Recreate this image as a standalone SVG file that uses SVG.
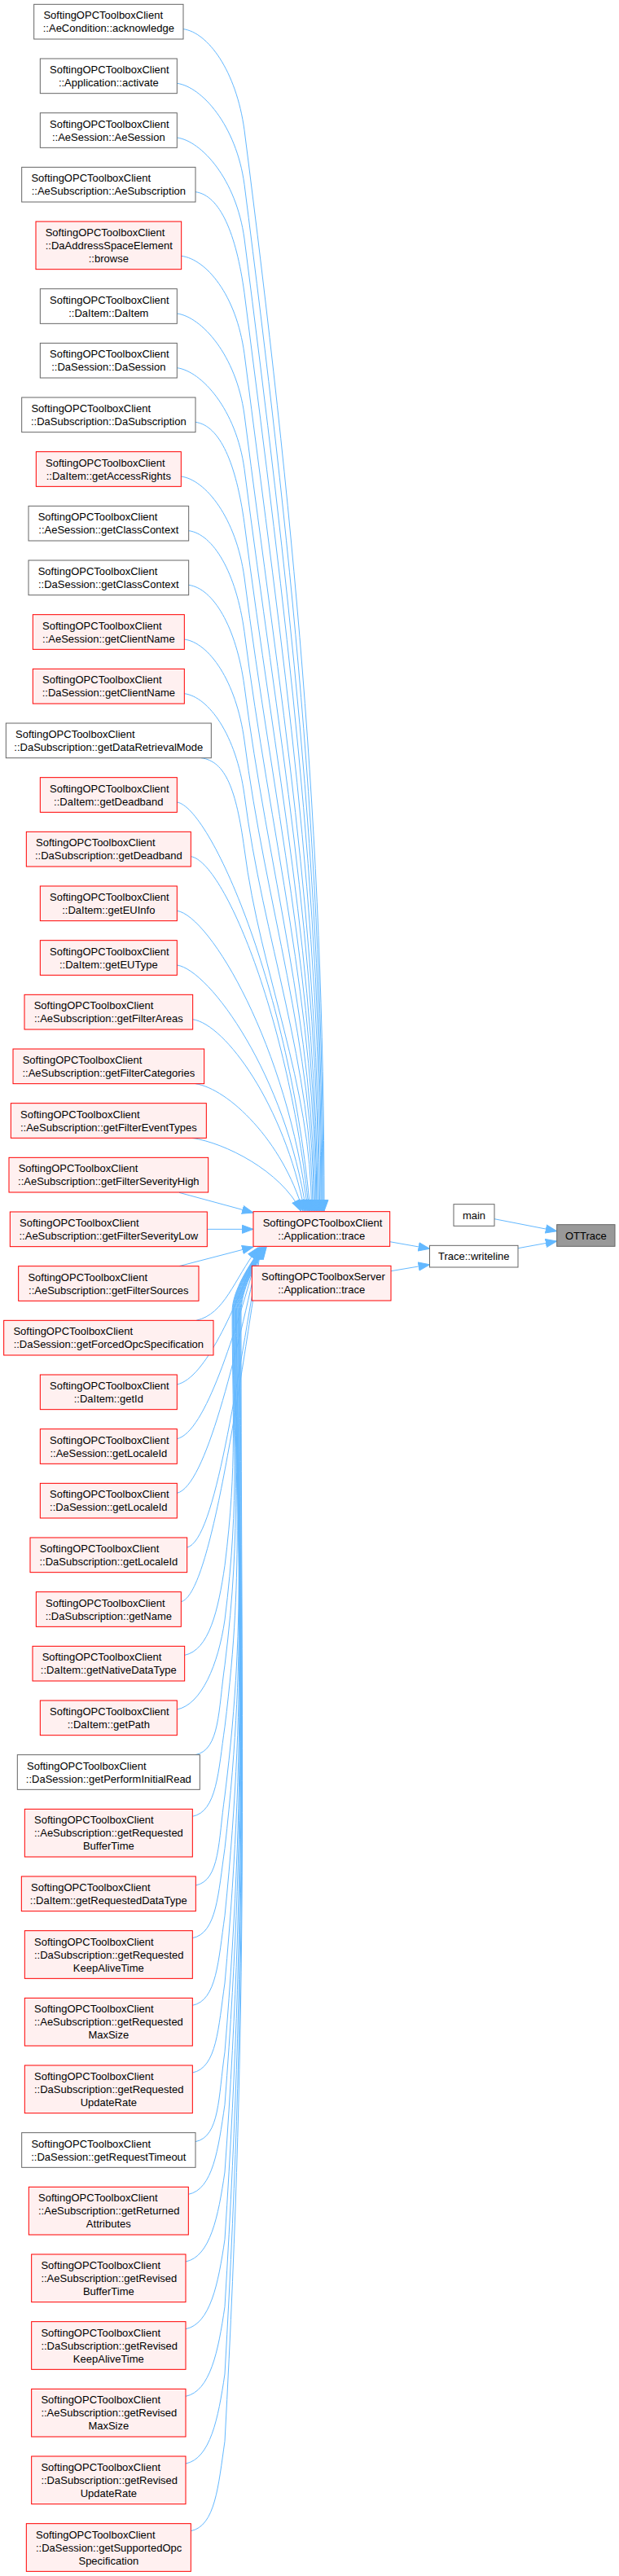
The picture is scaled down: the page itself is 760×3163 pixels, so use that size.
<svg xmlns="http://www.w3.org/2000/svg" width="760" height="3163" viewBox="0 0 760 3163">
<style>
text{font-family:"Liberation Sans",Arial,Helvetica,sans-serif;font-size:13px;fill:#000}
.c{text-anchor:middle}
.g rect{fill:#fff;stroke:#666;stroke-width:1}
.r rect{fill:#fff0f0;stroke:#ff0000;stroke-width:1}
.f rect{fill:#999;stroke:#666;stroke-width:1}
#edges path{fill:none;stroke:#63b8ff;stroke-width:1;marker-end:url(#ah)}
</style>
<defs>
<marker id="ah" markerUnits="userSpaceOnUse" markerWidth="15" markerHeight="12" viewBox="0 0 15 12" refX="14" refY="6" orient="auto">
<path d="M0.5,1 L14,6 L0.5,11 z" fill="#63b8ff" stroke="#63b8ff" stroke-width="1"/>
</marker>
</defs>
<rect x="0" y="0" width="760" height="3163" fill="#fff"/>
<g id="edges">
<path d="M225,35.67 C255,39.67 290,86.67 300,159.67 C359.4,623.9 398,1021.8 398,1487"/>
<path d="M217.33,102.33 C247.33,106.33 290,153.33 300,226.33 C356.4,667.2 397,1045.1 397,1487"/>
<path d="M217.33,169 C247.33,173 290,220 300,293 C353.4,710.6 396,1068.4 396,1487"/>
<path d="M240,235.67 C270,239.67 290,286.67 300,359.67 C350.5,753.9 395,1091.8 395,1487"/>
<path d="M222.83,314.33 C252.83,318.33 290,361.33 300,434.33 C347.1,802.4 394,1117.9 394,1487"/>
<path d="M217.33,385 C247.33,389 290,436 300,509 C343.8,851 392.5,1144 392.5,1487"/>
<path d="M217.33,451.67 C247.33,455.67 290,502.67 300,575.67 C340.8,894.3 391.5,1167.4 391.5,1487"/>
<path d="M240,518.33 C270,522.33 290,569.33 300,642.33 C337.8,937.6 390,1190.7 390,1487"/>
<path d="M222.33,585 C252.33,589 290,636 300,709 C334.8,981 389,1214 389,1487"/>
<path d="M231.67,651.67 C261.67,655.67 290,702.67 300,775.67 C331.8,1024.3 388,1237.4 388,1487"/>
<path d="M231.67,718.33 C261.67,722.33 290,769.33 300,842.33 C328.8,1067.6 386.5,1260.7 386.5,1487"/>
<path d="M226.33,785 C256.33,789 290,836 300,909 C325.9,1111 385.5,1284 385.5,1487"/>
<path d="M226.33,851.67 C256.33,855.67 290,902.67 300,975.67 C322.9,1154.3 384,1307.4 384,1487"/>
<path d="M247,930.67 C277,934.67 290,969.33 300,1042.33 C319.9,1197.6 382.5,1330.7 382.5,1487"/>
<path d="M217.33,985 C257.33,991 356,1210.5 381,1487"/>
<path d="M234.33,1051.67 C274.33,1057.67 354.5,1247.1 379.5,1487"/>
<path d="M217.33,1118.33 C257.33,1124.33 353,1283.8 378,1487"/>
<path d="M217.33,1185 C257.33,1191 351,1320.5 376,1487"/>
<path d="M236.67,1251.67 C276.67,1257.67 349,1357.1 374,1487"/>
<path d="M240,1330.67 C280,1336.67 347,1400.6 372,1487"/>
<path d="M236,1397.33 C276,1403.33 344.5,1437.2 369.5,1487"/>
<path d="M220,1464.33 L311,1489"/>
<path d="M254.33,1509.33 L311,1509.33"/>
<path d="M220,1554.67 L311,1531"/>
<path d="M241,1621.33 C276,1613.33 286.7,1572.2 316.7,1532"/>
<path d="M217.33,1700 C252.33,1692 287.7,1607.6 317.7,1532"/>
<path d="M217.33,1766.67 C252.33,1758.67 288.5,1637.6 318.5,1532"/>
<path d="M217.33,1833.33 C252.33,1825.33 289.2,1667.6 319.2,1532"/>
<path d="M229.67,1900 C264.67,1892 289.8,1697.6 319.8,1532"/>
<path d="M222.33,1966.67 C257.33,1958.67 290.4,1727.6 320.4,1532"/>
<path d="M226.67,2032.33 C256.67,2026.33 268,1977.33 276,1922.33 C291.6,1797.4 285.1,1734.9 285.1,1610 C285.1,1585 306.9,1552 320.9,1532"/>
<path d="M217.33,2099 C247.33,2093 268,2044 276,1989 C295,1837.4 285.8,1761.6 285.8,1610 C285.8,1585 307.4,1552 321.4,1532"/>
<path d="M240,2154.67 C270,2148.67 268,2099.67 276,2044.67 C297.7,1870.8 286.5,1783.9 286.5,1610 C286.5,1585 307.9,1552 321.9,1532"/>
<path d="M236.33,2230.33 C266.33,2224.33 268,2175.33 276,2120.33 C301.5,1916.2 287.2,1814.1 287.2,1610 C287.2,1585 308.4,1552 322.4,1532"/>
<path d="M240.33,2315 C270.33,2309 268,2260 276,2205 C305.75,1967 288,1848 288,1610 C288,1585 308.9,1552 322.9,1532"/>
<path d="M236.33,2379.67 C266.33,2373.67 268,2324.67 276,2269.67 C306,2005.8 288.7,1873.9 288.7,1610 C288.7,1585 309.3,1552 323.3,1532"/>
<path d="M236.33,2462.33 C266.33,2456.33 268,2407.33 276,2352.33 C306,2055.4 289.5,1906.9 289.5,1610 C289.5,1585 309.8,1552 323.8,1532"/>
<path d="M236.33,2545 C266.33,2539 268,2490 276,2435 C306,2105 290.4,1940 290.4,1610 C290.4,1585 310.3,1552 324.3,1532"/>
<path d="M240,2629.67 C270,2623.67 268,2574.67 276,2519.67 C306,2155.8 291.1,1973.9 291.1,1610 C291.1,1585 310.7,1552 324.7,1532"/>
<path d="M231.33,2694.33 C261.33,2688.33 268,2639.33 276,2584.33 C306,2194.6 291.9,1999.7 291.9,1610 C291.9,1585 311.1,1552 325.1,1532"/>
<path d="M228,2777 C258,2771 268,2722 276,2667 C306,2244.2 292.7,2032.8 292.7,1610 C292.7,1585 311.5,1552 325.5,1532"/>
<path d="M228,2859.67 C258,2853.67 268,2804.67 276,2749.67 C306,2293.8 293.5,2065.9 293.5,1610 C293.5,1585 311.9,1552 325.9,1532"/>
<path d="M228,2942.33 C258,2936.33 268,2887.33 276,2832.33 C306,2343.4 294.3,2098.9 294.3,1610 C294.3,1585 312.3,1552 326.3,1532"/>
<path d="M228,3025 C258,3019 268,2970 276,2915 C306,2393 295.2,2132 295.2,1610 C295.2,1585 312.6,1552 326.6,1532"/>
<path d="M234.33,3107.67 C264.33,3101.67 268,3052.67 276,2997.67 C306,2442.6 296,2165.1 296,1610 C296,1585 313,1552 327,1532"/>
<path d="M478.67,1524.7 L527.5,1533.3"/>
<path d="M480,1560.7 L527.5,1552.7"/>
<path d="M607,1496.7 L683.7,1511.7"/>
<path d="M636,1532.7 L683.7,1524"/>
</g>
<g id="n1" class="g"><rect x="41.67" y="5.33" width="183.33" height="42.67"/><text x="53.4" y="23.17">SoftingOPCToolboxClient</text><text class="c" x="133.33" y="39.17">::AeCondition::acknowledge</text></g>
<g id="n2" class="g"><rect x="49.33" y="72" width="168" height="42.67"/><text x="61" y="89.83">SoftingOPCToolboxClient</text><text class="c" x="133.33" y="105.83">::Application::activate</text></g>
<g id="n3" class="g"><rect x="49.33" y="138.67" width="168" height="42.67"/><text x="61" y="156.5">SoftingOPCToolboxClient</text><text class="c" x="133.33" y="172.5">::AeSession::AeSession</text></g>
<g id="n4" class="g"><rect x="26.67" y="205.33" width="213.33" height="42.67"/><text x="38.4" y="223.17">SoftingOPCToolboxClient</text><text class="c" x="133.33" y="239.17">::AeSubscription::AeSubscription</text></g>
<g id="n5" class="r"><rect x="44" y="272" width="178.67" height="58.67"/><text x="55.7" y="289.83">SoftingOPCToolboxClient</text><text x="55.7" y="305.83">::DaAddressSpaceElement</text><text class="c" x="133.33" y="321.83">::browse</text></g>
<g id="n6" class="g"><rect x="49.33" y="354.67" width="168" height="42.67"/><text x="61" y="372.5">SoftingOPCToolboxClient</text><text class="c" x="133.33" y="388.5">::DaItem::DaItem</text></g>
<g id="n7" class="g"><rect x="49.33" y="421.33" width="168" height="42.67"/><text x="61" y="439.17">SoftingOPCToolboxClient</text><text class="c" x="133.33" y="455.17">::DaSession::DaSession</text></g>
<g id="n8" class="g"><rect x="26.67" y="488" width="213.33" height="42.67"/><text x="38.4" y="505.83">SoftingOPCToolboxClient</text><text class="c" x="133.33" y="521.83">::DaSubscription::DaSubscription</text></g>
<g id="n9" class="r"><rect x="44.33" y="554.67" width="178" height="42.67"/><text x="56" y="572.5">SoftingOPCToolboxClient</text><text class="c" x="133.33" y="588.5">::DaItem::getAccessRights</text></g>
<g id="n10" class="g"><rect x="35" y="621.33" width="196.67" height="42.67"/><text x="46.7" y="639.17">SoftingOPCToolboxClient</text><text class="c" x="133.33" y="655.17">::AeSession::getClassContext</text></g>
<g id="n11" class="g"><rect x="35" y="688" width="196.67" height="42.67"/><text x="46.7" y="705.83">SoftingOPCToolboxClient</text><text class="c" x="133.33" y="721.83">::DaSession::getClassContext</text></g>
<g id="n12" class="r"><rect x="40.33" y="754.67" width="186" height="42.67"/><text x="52" y="772.5">SoftingOPCToolboxClient</text><text class="c" x="133.33" y="788.5">::AeSession::getClientName</text></g>
<g id="n13" class="r"><rect x="40.33" y="821.33" width="186" height="42.67"/><text x="52" y="839.17">SoftingOPCToolboxClient</text><text class="c" x="133.33" y="855.17">::DaSession::getClientName</text></g>
<g id="n14" class="g"><rect x="7.33" y="888" width="252" height="42.67"/><text x="19" y="905.83">SoftingOPCToolboxClient</text><text class="c" x="133.33" y="921.83">::DaSubscription::getDataRetrievalMode</text></g>
<g id="n15" class="r"><rect x="49.33" y="954.67" width="168" height="42.67"/><text x="61" y="972.5">SoftingOPCToolboxClient</text><text class="c" x="133.33" y="988.5">::DaItem::getDeadband</text></g>
<g id="n16" class="r"><rect x="32.33" y="1021.33" width="202" height="42.67"/><text x="44" y="1039.17">SoftingOPCToolboxClient</text><text class="c" x="133.33" y="1055.17">::DaSubscription::getDeadband</text></g>
<g id="n17" class="r"><rect x="49.33" y="1088" width="168" height="42.67"/><text x="61" y="1105.83">SoftingOPCToolboxClient</text><text class="c" x="133.33" y="1121.83">::DaItem::getEUInfo</text></g>
<g id="n18" class="r"><rect x="49.33" y="1154.67" width="168" height="42.67"/><text x="61" y="1172.5">SoftingOPCToolboxClient</text><text class="c" x="133.33" y="1188.5">::DaItem::getEUType</text></g>
<g id="n19" class="r"><rect x="30" y="1221.33" width="206.67" height="42.67"/><text x="41.7" y="1239.17">SoftingOPCToolboxClient</text><text class="c" x="133.33" y="1255.17">::AeSubscription::getFilterAreas</text></g>
<g id="n20" class="r"><rect x="16" y="1288" width="234.67" height="42.67"/><text x="27.7" y="1305.83">SoftingOPCToolboxClient</text><text class="c" x="133.33" y="1321.83">::AeSubscription::getFilterCategories</text></g>
<g id="n21" class="r"><rect x="13.33" y="1354.67" width="240" height="42.67"/><text x="25" y="1372.5">SoftingOPCToolboxClient</text><text class="c" x="133.33" y="1388.5">::AeSubscription::getFilterEventTypes</text></g>
<g id="n22" class="r"><rect x="11" y="1421.33" width="244.67" height="42.67"/><text x="22.7" y="1439.17">SoftingOPCToolboxClient</text><text class="c" x="133.33" y="1455.17">::AeSubscription::getFilterSeverityHigh</text></g>
<g id="n23" class="r"><rect x="12.33" y="1488" width="242" height="42.67"/><text x="24" y="1505.83">SoftingOPCToolboxClient</text><text class="c" x="133.33" y="1521.83">::AeSubscription::getFilterSeverityLow</text></g>
<g id="n24" class="r"><rect x="22.67" y="1554.67" width="221.33" height="42.67"/><text x="34.4" y="1572.5">SoftingOPCToolboxClient</text><text class="c" x="133.33" y="1588.5">::AeSubscription::getFilterSources</text></g>
<g id="n25" class="r"><rect x="4.67" y="1621.33" width="257.33" height="42.67"/><text x="16.4" y="1639.17">SoftingOPCToolboxClient</text><text class="c" x="133.33" y="1655.17">::DaSession::getForcedOpcSpecification</text></g>
<g id="n26" class="r"><rect x="49.33" y="1688" width="168" height="42.67"/><text x="61" y="1705.83">SoftingOPCToolboxClient</text><text class="c" x="133.33" y="1721.83">::DaItem::getId</text></g>
<g id="n27" class="r"><rect x="49.33" y="1754.67" width="168" height="42.67"/><text x="61" y="1772.5">SoftingOPCToolboxClient</text><text class="c" x="133.33" y="1788.5">::AeSession::getLocaleId</text></g>
<g id="n28" class="r"><rect x="49.33" y="1821.33" width="168" height="42.67"/><text x="61" y="1839.17">SoftingOPCToolboxClient</text><text class="c" x="133.33" y="1855.17">::DaSession::getLocaleId</text></g>
<g id="n29" class="r"><rect x="37" y="1888" width="192.67" height="42.67"/><text x="48.7" y="1905.83">SoftingOPCToolboxClient</text><text class="c" x="133.33" y="1921.83">::DaSubscription::getLocaleId</text></g>
<g id="n30" class="r"><rect x="44.33" y="1954.67" width="178" height="42.67"/><text x="56" y="1972.5">SoftingOPCToolboxClient</text><text class="c" x="133.33" y="1988.5">::DaSubscription::getName</text></g>
<g id="n31" class="r"><rect x="40" y="2021.33" width="186.67" height="42.67"/><text x="51.7" y="2039.17">SoftingOPCToolboxClient</text><text class="c" x="133.33" y="2055.17">::DaItem::getNativeDataType</text></g>
<g id="n32" class="r"><rect x="49.33" y="2088" width="168" height="42.67"/><text x="61" y="2105.83">SoftingOPCToolboxClient</text><text class="c" x="133.33" y="2121.83">::DaItem::getPath</text></g>
<g id="n33" class="g"><rect x="21.33" y="2154.67" width="224" height="42.67"/><text x="33" y="2172.5">SoftingOPCToolboxClient</text><text class="c" x="133.33" y="2188.5">::DaSession::getPerformInitialRead</text></g>
<g id="n34" class="r"><rect x="30.33" y="2221.33" width="206" height="58.67"/><text x="42" y="2239.17">SoftingOPCToolboxClient</text><text x="42" y="2255.17">::AeSubscription::getRequested</text><text class="c" x="133.33" y="2271.17">BufferTime</text></g>
<g id="n35" class="r"><rect x="26.33" y="2304" width="214" height="42.67"/><text x="38" y="2321.83">SoftingOPCToolboxClient</text><text class="c" x="133.33" y="2337.83">::DaItem::getRequestedDataType</text></g>
<g id="n36" class="r"><rect x="30.33" y="2370.67" width="206" height="58.67"/><text x="42" y="2388.5">SoftingOPCToolboxClient</text><text x="42" y="2404.5">::DaSubscription::getRequested</text><text class="c" x="133.33" y="2420.5">KeepAliveTime</text></g>
<g id="n37" class="r"><rect x="30.33" y="2453.33" width="206" height="58.67"/><text x="42" y="2471.17">SoftingOPCToolboxClient</text><text x="42" y="2487.17">::AeSubscription::getRequested</text><text class="c" x="133.33" y="2503.17">MaxSize</text></g>
<g id="n38" class="r"><rect x="30.33" y="2536" width="206" height="58.67"/><text x="42" y="2553.83">SoftingOPCToolboxClient</text><text x="42" y="2569.83">::DaSubscription::getRequested</text><text class="c" x="133.33" y="2585.83">UpdateRate</text></g>
<g id="n39" class="g"><rect x="26.67" y="2618.67" width="213.33" height="42.67"/><text x="38.4" y="2636.5">SoftingOPCToolboxClient</text><text class="c" x="133.33" y="2652.5">::DaSession::getRequestTimeout</text></g>
<g id="n40" class="r"><rect x="35.33" y="2685.33" width="196" height="58.67"/><text x="47" y="2703.17">SoftingOPCToolboxClient</text><text x="47" y="2719.17">::AeSubscription::getReturned</text><text class="c" x="133.33" y="2735.17">Attributes</text></g>
<g id="n41" class="r"><rect x="38.67" y="2768" width="189.33" height="58.67"/><text x="50.4" y="2785.83">SoftingOPCToolboxClient</text><text x="50.4" y="2801.83">::AeSubscription::getRevised</text><text class="c" x="133.33" y="2817.83">BufferTime</text></g>
<g id="n42" class="r"><rect x="38.67" y="2850.67" width="189.33" height="58.67"/><text x="50.4" y="2868.5">SoftingOPCToolboxClient</text><text x="50.4" y="2884.5">::DaSubscription::getRevised</text><text class="c" x="133.33" y="2900.5">KeepAliveTime</text></g>
<g id="n43" class="r"><rect x="38.67" y="2933.33" width="189.33" height="58.67"/><text x="50.4" y="2951.17">SoftingOPCToolboxClient</text><text x="50.4" y="2967.17">::AeSubscription::getRevised</text><text class="c" x="133.33" y="2983.17">MaxSize</text></g>
<g id="n44" class="r"><rect x="38.67" y="3016" width="189.33" height="58.67"/><text x="50.4" y="3033.83">SoftingOPCToolboxClient</text><text x="50.4" y="3049.83">::DaSubscription::getRevised</text><text class="c" x="133.33" y="3065.83">UpdateRate</text></g>
<g id="n45" class="r"><rect x="32.33" y="3098.67" width="202" height="58.67"/><text x="44" y="3116.5">SoftingOPCToolboxClient</text><text x="44" y="3132.5">::DaSession::getSupportedOpc</text><text class="c" x="133.33" y="3148.5">Specification</text></g>
<g id="app_trace" class="r"><rect x="311" y="1487.67" width="167.67" height="42.67"/><text x="322.7" y="1505.5">SoftingOPCToolboxClient</text><text class="c" x="394.83" y="1521.5">::Application::trace</text></g>
<g id="srv_trace" class="r"><rect x="309.33" y="1554.33" width="170.67" height="42.67"/><text x="321" y="1572.17">SoftingOPCToolboxServer</text><text class="c" x="394.67" y="1588.17">::Application::trace</text></g>
<g id="main" class="g"><rect x="557" y="1478.67" width="50" height="26.67"/><text class="c" x="582" y="1496.5">main</text></g>
<g id="writeline" class="g"><rect x="527.5" y="1529.33" width="108.5" height="26.67"/><text class="c" x="581.75" y="1547.2">Trace::writeline</text></g>
<g id="ottrace" class="f"><rect x="683.7" y="1503.67" width="71.3" height="26.67"/><text class="c" x="719.35" y="1521.5">OTTrace</text></g>
</svg>
